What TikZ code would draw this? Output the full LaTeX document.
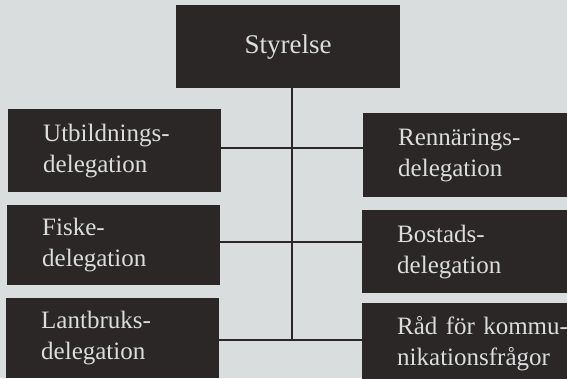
\documentclass[tikz,border=0pt]{standalone}
\usepackage{fontspec}
\setmainfont{Liberation Serif}
\definecolor{paper}{HTML}{DADDDD}
\definecolor{ink}{HTML}{2B2727}
\begin{document}
\begin{tikzpicture}[x=1pt,y=-1pt,
  box/.style={fill=ink, text=paper, align=left, inner ysep=0pt,
    font=\fontsize{25}{31}\selectfont, anchor=north west},
  lbox/.style={box, inner xsep=35pt, text width=143pt, minimum height=#1},
  rbox/.style={box, inner xsep=35pt, text width=172pt, minimum height=#1},
  link/.style={draw=ink, line width=1.6pt}]
\fill[paper] (0,0) rectangle (567,378);
\useasboundingbox (0,0) rectangle (567,378);

% board at the top
\node[box, minimum width=224pt, minimum height=83pt, align=center, inner xsep=0pt,
  font=\fontsize{27}{31}\selectfont] (S) at (176,5) {Styrelse};

% delegations, left column
\node[lbox=83pt] (U) at (8,109) {Utbildnings-\\delegation};
\node[lbox=80pt] (F) at (7,205) {Fiske-\\delegation};
\node[lbox=80pt] (L) at (6,298) {Lantbruks-\\delegation};

% delegations, right column
\node[rbox=84pt] (R) at (363,113) {Rennärings-\\delegation};
\node[rbox=83pt] (B) at (362,210) {Bostads-\\delegation};
\node[rbox=80pt] (K) at (362,303) {Råd för kommu-\\nikationsfrågor};

% branch points on the trunk
\coordinate (j1) at (292,148);
\coordinate (j2) at (292,242);
\coordinate (j3) at (292,340);

\draw[link] (S.south -| j1) -- (j3);
\draw[link] (j1 -| U.east) -- (j1 -| R.west);
\draw[link] (j2 -| F.east) -- (j2 -| B.west);
\draw[link] (j3 -| L.east) -- (j3 -| K.west);
\end{tikzpicture}
\end{document}
